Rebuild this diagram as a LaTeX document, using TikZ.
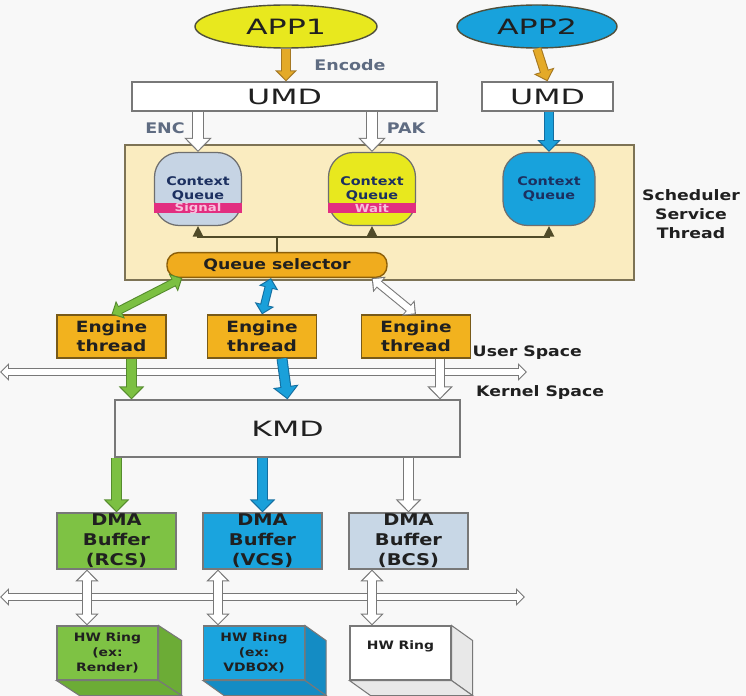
\documentclass[tikz,border=0pt]{standalone}
\usepackage{fontspec}
\setmainfont[FakeStretch=1.2]{DejaVu Sans}
\newfontfamily\widefont[FakeStretch=1.5]{DejaVu Sans}
\usetikzlibrary{arrows.meta,shapes.geometric}

\definecolor{bgcol}{RGB}{248,248,248}
\definecolor{appyel}{RGB}{232,232,30}
\definecolor{appblue}{RGB}{24,162,220}
\definecolor{edgecol}{RGB}{80,80,60}
\definecolor{boxline}{RGB}{120,120,120}
\definecolor{notecol}{RGB}{95,108,130}
\definecolor{schedcol}{RGB}{250,236,192}
\definecolor{schedline}{RGB}{125,115,85}
\definecolor{cqgrey}{RGB}{198,212,228}
\definecolor{cqline}{RGB}{110,110,110}
\definecolor{cqtext}{RGB}{28,48,96}
\definecolor{flagcol}{RGB}{226,46,128}
\definecolor{flagtxt}{RGB}{248,190,220}
\definecolor{arrowdark}{RGB}{80,75,40}
\definecolor{qselcol}{RGB}{240,172,30}
\definecolor{qselline}{RGB}{140,95,10}
\definecolor{enginecol}{RGB}{242,178,30}
\definecolor{engline}{RGB}{120,90,25}
\definecolor{darktxt}{RGB}{32,32,32}
\definecolor{orangearr}{RGB}{228,170,40}
\definecolor{orangeline}{RGB}{165,120,35}
\definecolor{greenarr}{RGB}{124,192,66}
\definecolor{greenline}{RGB}{85,140,45}
\definecolor{bluearr}{RGB}{26,160,218}
\definecolor{blueline}{RGB}{20,110,160}
\definecolor{grayline}{RGB}{120,120,120}
\definecolor{kmdcol}{RGB}{246,246,246}
\definecolor{dmagreen}{RGB}{126,194,68}
\definecolor{dmablue}{RGB}{26,164,222}
\definecolor{dmagrey}{RGB}{200,215,230}
\definecolor{greenside}{RGB}{108,172,54}
\definecolor{blueside}{RGB}{20,140,196}
\definecolor{whiteside}{RGB}{232,232,232}

\tikzset{
  arr/.style n args={3}{draw=#1, line width=#3, shorten >=.9pt,
    -{Triangle[width=0pt 2.3,length=0pt 1.2]},
    preaction={draw=#2, line width=#3+1.2pt, shorten >=0pt,
      -{Triangle[width=0pt 2.3,length=0pt 1.2]}}},
  arrs/.style n args={3}{draw=#1, line width=#3, shorten >=.9pt, shorten <=.9pt,
    {Triangle[width=0pt 2.3,length=0pt 1.2]}-{Triangle[width=0pt 2.3,length=0pt 1.2]},
    preaction={draw=#2, line width=#3+1.2pt, shorten >=0pt, shorten <=0pt,
      {Triangle[width=0pt 2.3,length=0pt 1.2]}-{Triangle[width=0pt 2.3,length=0pt 1.2]}}}
}

\begin{document}
\begin{tikzpicture}[
    app/.style={ellipse, draw=edgecol, line width=.8pt, minimum height=.86cm, text=darktxt,
      font=\widefont\fontsize{12}{14}\selectfont},
    umd/.style={draw=boxline, fill=white, line width=.7pt, minimum height=.58cm, text=darktxt,
      font=\widefont\fontsize{12}{14}\selectfont},
    note/.style={text=notecol, font=\bfseries\fontsize{8.3}{10}\selectfont},
    label/.style={text=darktxt, font=\bfseries\fontsize{8.2}{10.8}\selectfont},
    ctxq/.style={draw=cqline, line width=.7pt, rounded corners=14pt, minimum width=1.74cm,
      minimum height=1.46cm, align=center, text=cqtext, font=\bfseries\fontsize{6.8}{7.5}\selectfont},
    flag/.style={fill=flagcol, minimum width=1.76cm, minimum height=.2cm, inner sep=0pt,
      text=flagtxt, font=\bfseries\fontsize{6.3}{6.3}\selectfont},
    qsel/.style={draw=qselline, fill=qselcol, line width=.8pt, rounded corners=6.5pt,
      minimum width=4.4cm, minimum height=.48cm, text=darktxt, font=\bfseries\fontsize{8.2}{9}\selectfont},
    engine/.style={draw=engline, fill=enginecol, line width=.7pt, minimum width=2.18cm,
      minimum height=.86cm, inner sep=0pt, align=center, text=darktxt,
      font=\bfseries\fontsize{8.8}{11}\selectfont},
    dma/.style={draw=boxline, line width=.7pt, minimum width=2.38cm, minimum height=1.12cm,
      inner sep=0pt, align=center, text=darktxt, font=\bfseries\fontsize{9.2}{11.3}\selectfont},
    ring/.style={draw=boxline, line width=.6pt, minimum width=2.02cm, minimum height=1.08cm,
      inner sep=0pt, align=center, text=darktxt, font=\bfseries\fontsize{6.6}{8.5}\selectfont},
    face/.style={draw=boxline, line width=.6pt},
    thinline/.style={draw=arrowdark, line width=.8pt}]

        \fill[bgcol] (0,0) rectangle (14.92,-13.92);
        \useasboundingbox (0,0) rectangle (14.92,-13.92);

        \node[draw=schedline, fill=schedcol, line width=.8pt, minimum width=10.18cm,
          minimum height=2.7cm] (sched) at (7.59,-4.25) {};
        \node[label, align=center] (schedlbl) at (13.82,-4.28) {Scheduler\\Service\\Thread};

        \node[app, fill=appyel, minimum width=3.64cm] (app1) at (5.72,-.53) {APP1};
        \node[app, fill=appblue, minimum width=3.2cm] (app2) at (10.74,-.53) {APP2};
        \node[note] (encode) at (7.0,-1.3) {Encode};
        \node[umd, minimum width=6.1cm] (umd1) at (5.69,-1.93) {UMD};
        \node[umd, minimum width=2.62cm] (umd2) at (10.95,-1.93) {UMD};
        \node[note] (enc) at (3.3,-2.56) {ENC};
        \node[note] (pak) at (8.12,-2.56) {PAK};

        \node[ctxq, fill=cqgrey] (cq1) at (3.96,-3.78) {Context\\Queue};
        \node[ctxq, fill=appyel] (cq2) at (7.44,-3.78) {Context\\Queue};
        \node[ctxq, fill=appblue, minimum width=1.84cm] (cq3) at (10.98,-3.78) {Context\\Queue};
        \node[flag] (signal) at ([yshift=-.38cm]cq1) {Signal};
        \node[flag] (wait) at ([yshift=-.38cm]cq2) {Wait};

        \coordinate (split) at (5.54,-4.74);
        \node[qsel] (qsel) at (5.54,-5.3) {Queue selector};

        \node[label, anchor=west] (user) at (9.33,-7.06) {User Space};
        \node[label, anchor=west] (kernel) at (9.4,-7.86) {Kernel Space};

        \node[engine] (et1) at (2.23,-6.73) {Engine\\thread};
        \node[engine] (et2) at (5.24,-6.73) {Engine\\thread};
        \node[engine] (et3) at (8.32,-6.73) {Engine\\thread};

        \coordinate (ul) at (0,-7.44);
        \coordinate (ur) at (10.54,-7.44);
        \coordinate (kl) at (0,-11.94);
        \coordinate (kr) at (10.5,-11.94);
        \draw[arrs={white}{grayline}{3pt}] (ul) -- (ur);
        \draw[arrs={white}{grayline}{3pt}] (kl) -- (kr);

        \node[draw=boxline, fill=kmdcol, line width=.7pt, minimum width=6.9cm, minimum height=1.14cm,
          text=darktxt, font=\widefont\fontsize{12}{14}\selectfont] (kmd) at (5.75,-8.57) {KMD};

        \node[dma, fill=dmagreen] (dma1) at (2.33,-10.82) {DMA\\Buffer\\(RCS)};
        \node[dma, fill=dmablue] (dma2) at (5.25,-10.82) {DMA\\Buffer\\(VCS)};
        \node[dma, fill=dmagrey] (dma3) at (8.17,-10.82) {DMA\\Buffer\\(BCS)};

        \node[ring, fill=dmagreen] (hw1) at (2.15,-13.06) {HW Ring\\(ex:\\Render)};
        \node[ring, fill=dmablue] (hw2) at (5.08,-13.06) {HW Ring\\(ex:\\VDBOX)};
        \node[ring, fill=white] (hw3) at (8.01,-13.06) {HW Ring\\ \mbox{}};

        \draw[face, fill=greenside] (hw1.north east) -- ++(.46,-.3) -- ([shift={(.46,-.3)}]hw1.south east) -- (hw1.south east) -- cycle;
        \draw[face, fill=greenside] (hw1.south west) -- (hw1.south east) -- ++(.46,-.3) -- ([shift={(.46,-.3)}]hw1.south west) -- cycle;
        \draw[face, fill=blueside] (hw2.north east) -- ++(.42,-.3) -- ([shift={(.42,-.3)}]hw2.south east) -- (hw2.south east) -- cycle;
        \draw[face, fill=blueside] (hw2.south west) -- (hw2.south east) -- ++(.42,-.3) -- ([shift={(.42,-.3)}]hw2.south west) -- cycle;
        \draw[face, fill=whiteside] (hw3.north east) -- ++(.42,-.3) -- ([shift={(.42,-.3)}]hw3.south east) -- (hw3.south east) -- cycle;
        \draw[face, fill=whiteside] (hw3.south west) -- (hw3.south east) -- ++(.42,-.3) -- ([shift={(.42,-.3)}]hw3.south west) -- cycle;

        \begin{scope}
        \draw[arr={orangearr}{orangeline}{4pt}] (app1.south) -- (app1.south |- umd1.north);
        \draw[arr={orangearr}{orangeline}{4pt}] (app2.south) -- (umd2.north);
        \draw[arr={white}{grayline}{5.4pt}] (umd1.south -| cq1) -- (cq1.north);
        \draw[arr={white}{grayline}{5.4pt}] (umd1.south -| cq2) -- (cq2.north);
        \draw[arr={bluearr}{blueline}{4.4pt}] (umd2.south -| cq3) -- (cq3.north);

        \draw[thinline] (qsel.north) -- (split);
        \draw[thinline, -{Triangle[width=6pt,length=6pt]}] (split) -| (cq1.south);
        \draw[thinline, -{Triangle[width=6pt,length=6pt]}] (split) -| (cq2.south);
        \draw[thinline, -{Triangle[width=6pt,length=6pt]}] (split) -| (cq3.south);

        \draw[arrs={greenarr}{greenline}{3.6pt}] ([xshift=.32cm]qsel.south west) -- (et1.north);
        \draw[arrs={bluearr}{blueline}{3.6pt}] ([xshift=-.12cm]qsel.south) -- (et2.north);
        \draw[arrs={white}{grayline}{3.6pt}] ([xshift=-.32cm]qsel.south east) -- (et3.north);

        \draw[arr={greenarr}{greenline}{5pt}] ([xshift=.4cm]et1.south) -- ([xshift=.4cm]et1.south |- kmd.north);
        \draw[arr={bluearr}{blueline}{5pt}] ([xshift=.4cm]et2.south) -- (kmd.north);
        \draw[arr={white}{grayline}{5pt}] ([xshift=.48cm]et3.south) -- ([xshift=.48cm]et3.south |- kmd.north);

        \draw[arr={greenarr}{greenline}{5pt}] (kmd.south -| dma1) -- (dma1.north);
        \draw[arr={bluearr}{blueline}{5pt}] (kmd.south -| dma2) -- (dma2.north);
        \draw[arr={white}{grayline}{5pt}] (kmd.south -| dma3) -- (dma3.north);

        \draw[arrs={white}{grayline}{4.4pt}] ([xshift=-.59cm]dma1.south) -- ([xshift=-.59cm]dma1.south |- hw1.north);
        \draw[arrs={white}{grayline}{4.4pt}] ([xshift=-.89cm]dma2.south) -- ([xshift=-.89cm]dma2.south |- hw2.north);
        \draw[arrs={white}{grayline}{4.4pt}] ([xshift=-.73cm]dma3.south) -- ([xshift=-.73cm]dma3.south |- hw3.north);
        \end{scope}

\end{tikzpicture}
\end{document}
